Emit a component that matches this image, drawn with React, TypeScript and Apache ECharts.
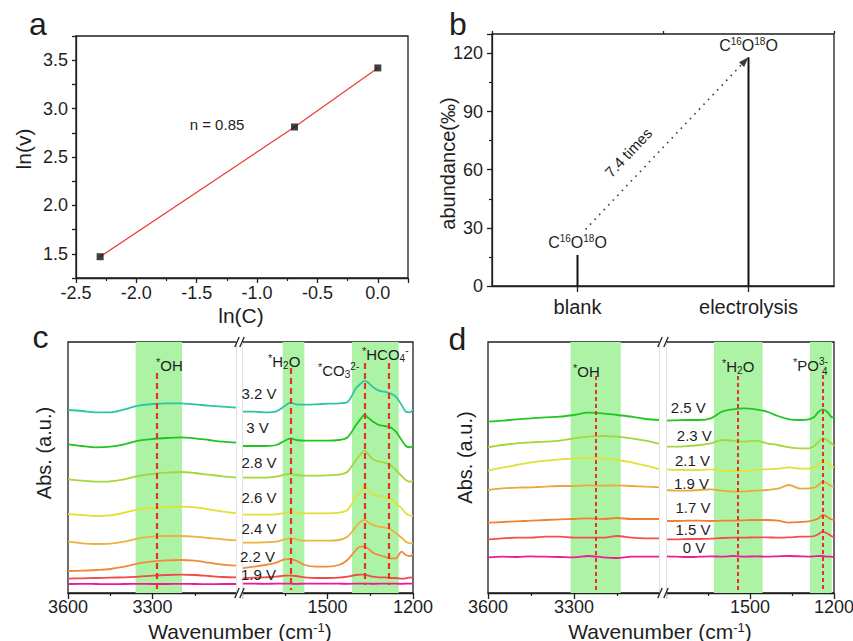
import React, { useEffect, useRef } from "react";
import * as echarts from "echarts";

const FONT = "'Liberation Sans', Arial, Helvetica, sans-serif";
const INK = "#1e1e1e";

/* ---------------- panel a ---------------- */
const lnC = [-2.3, -0.69, 0];
const lnV = [1.47, 2.81, 3.42];
const aNote = "n = 0.85";

/* ---------------- panel b ---------------- */
const bCategories = ["blank", "electrolysis"];
const bAbundance = [16, 118];
const bArrowStart = 29.2;
const bArrowEnd = 116.1;
const bNote = "7.4 times";

/* ---------------- shared wavenumber ticks ---------------- */
const wnTicksLeft = [3600, 3300];
const wnTicksRight = [1500, 1200];

/* ---------------- panel c ---------------- */
const cLeftX = [3600, 3550, 3500, 3450, 3400, 3350, 3300, 3250, 3200, 3150, 3100, 3050, 3000];
const cRightX = [1800, 1760, 1720, 1680, 1650, 1630, 1610, 1580, 1540, 1500, 1460, 1430, 1400, 1385, 1370, 1355, 1340, 1320, 1300, 1280, 1260, 1240, 1225, 1210, 1200];
const cVoltages = ["3.2 V", "3 V", "2.8 V", "2.6 V", "2.4 V", "2.2 V", "1.9 V", ""];
const cColors = ["#2ec4a4", "#1fc41f", "#a6d63a", "#e2e034", "#ebb23e", "#f28a3a", "#f24a4a", "#f0189a"];

const c32L = [183, 182, 180.7, 180.7, 183.7, 187.3, 189, 189.7, 189.7, 188.7, 187.3, 186.3, 185.3];
const c32R = [181.3, 181.3, 180.7, 181.7, 187, 190.3, 188.7, 188.3, 188.7, 189.3, 189.7, 191, 204.7, 209, 212.3, 209.7, 205.7, 202.3, 201.3, 199.7, 196.3, 188, 181.3, 180.7, 183.7];
const c30L = [148.7, 147, 145.7, 146.3, 148.7, 152.3, 154, 155, 155.7, 154.7, 153, 151.3, 150.3];
const c30R = [147, 147, 147, 148, 152.3, 154.7, 153, 152.3, 152.3, 152.3, 153, 155.5, 168, 173.7, 178, 174.7, 171.3, 168, 167, 165.7, 161.3, 153, 147, 145.7, 147];
const c28L = [113.7, 112.3, 111.3, 111.7, 113.7, 117, 119, 120.3, 121, 120, 118.3, 116.7, 115.3];
const c28R = [115.3, 115.3, 115.3, 116.3, 118.3, 119, 118, 117.3, 117.3, 117.7, 118.3, 121.3, 133, 138, 142.3, 138, 133.7, 131.3, 130.3, 128, 123, 117, 113, 111.3, 112];
const c26L = [79, 78, 77, 77.7, 80.3, 83.7, 85, 85.7, 86.3, 85.7, 83.7, 81.3, 79.7];
const c26R = [78.7, 78.3, 78.3, 78.7, 80.3, 81.3, 80.3, 79.7, 79.7, 79.7, 80.3, 83, 96.3, 101.3, 107, 102.3, 99, 97, 96.3, 94.7, 89.7, 84.7, 79.7, 77.3, 77.3];
const c24L = [51.3, 49.7, 49, 49.3, 51.3, 54.7, 56.3, 57, 57, 56.3, 55, 53.7, 52.7];
const c24R = [50.3, 50.3, 50.7, 51.3, 53.7, 54.7, 53.7, 52.3, 52.3, 52.3, 53, 56.3, 66.3, 71.3, 73, 70.3, 68, 66.3, 65.7, 63.7, 59.7, 55.3, 51.3, 49.7, 49.7];
const c22L = [22, 22.3, 23, 24, 26.3, 29.7, 31.7, 32.7, 33, 32.3, 30.3, 28.3, 27.3];
const c22R = [24.7, 26.3, 28, 30.3, 33.7, 34, 32.3, 28, 26.3, 26.3, 28, 33, 43, 46.3, 46.3, 43.7, 40.3, 38, 36.3, 34.7, 34.7, 41.3, 38, 37, 38.7];
const c19L = [14.3, 14.7, 15, 15.3, 15.7, 16.3, 17.3, 18, 18.3, 18, 17, 16, 15.7];
const c19R = [14.7, 15.3, 15.7, 16.3, 17.3, 17.3, 17, 15.7, 15, 15, 15.3, 16.3, 18, 18.3, 18.3, 17.3, 16.3, 15.7, 15.7, 15, 15, 14.3, 14.7, 15.7, 15];
const c00L = [9, 9.2, 9, 8.8, 9, 9.1, 9, 9, 9.2, 9, 8.9, 9, 9];
const c00R = [9.3, 9.3, 9.2, 9.3, 9.4, 9.3, 9.2, 9.3, 9.3, 9.4, 9.3, 9.2, 9.3, 9.4, 9.3, 9.3, 9.2, 9.3, 9.3, 9.4, 9.3, 9.2, 9.3, 9.3, 9.3];

const cBandsLeft = [[3360, 3195]];
const cBandsRight = [[1657, 1581], [1414, 1250]];
const cPeaksLeft = [[3285, 220, 0]];
const cPeaksRight = [[1628, 225, 3], [1371, 230, 8], [1284, 230, 8]];

/* ---------------- panel d ---------------- */
const dLeftX = [3600, 3550, 3500, 3450, 3400, 3350, 3300, 3250, 3200, 3150, 3100, 3050, 3000];
const dRightX = [1800, 1760, 1720, 1680, 1640, 1600, 1560, 1520, 1480, 1440, 1400, 1360, 1320, 1290, 1270, 1255, 1240, 1225, 1210, 1200];
const dVoltages = ["2.5 V", "2.3 V", "2.1 V", "1.9 V", "1.7 V", "1.5 V", "0 V"];
const dColors = ["#22c622", "#a6d63a", "#e2e03c", "#e9a93e", "#f08032", "#f25050", "#ea1e96"];

const d25L = [171.3, 172.3, 173.7, 174.7, 175.7, 176.3, 178, 180.3, 179.7, 178, 176.3, 174, 173];
const d25R = [172.3, 172.7, 173, 173, 174.7, 181.3, 183.7, 184.7, 183.7, 181.3, 177, 173.7, 173, 173.7, 176.3, 181.3, 183.7, 181.3, 176.3, 175.3];
const d23L = [145.7, 148, 149.7, 150.7, 151.3, 152.3, 154.7, 156.3, 157, 156.3, 154.7, 152.3, 149];
const d23R = [146.3, 146.3, 147, 148, 149.7, 153, 152.3, 151.3, 152.3, 149.7, 148, 145.7, 144.7, 144.7, 147, 151.3, 154.7, 153, 149.7, 147];
const d21L = [122.3, 125.3, 128, 130.7, 132.3, 133.7, 134.7, 135, 134.7, 133, 130.7, 127.3, 123.7];
const d21R = [123.7, 123, 123, 123, 123.7, 122.3, 122, 121.7, 123, 123.7, 124.3, 125.7, 124.3, 124.3, 125.7, 129, 132.3, 130.3, 127, 125.7];
const d19L = [103, 104.7, 105.3, 105.7, 106.3, 107, 107, 107.7, 107.3, 107.7, 107, 106.3, 105.7];
const d19R = [103, 102.3, 102.3, 103, 103.7, 102.3, 101.3, 101.7, 102.3, 103, 104.3, 108, 104.3, 104.7, 105.3, 108, 111.3, 109.7, 107, 106.3];
const d17L = [70.3, 71, 71.7, 72.3, 73, 73.7, 74, 74.7, 74, 75, 74, 74, 74];
const d17R = [72, 72, 72.3, 72.3, 72, 72.3, 72.3, 72.7, 73, 73, 72.3, 70.3, 71, 71.7, 73, 74.7, 78, 76.3, 73.7, 73];
const d15L = [53.7, 54.7, 55.3, 55.3, 56.3, 56.3, 55.3, 55.3, 55.3, 57, 55.3, 54.7, 54.7];
const d15R = [53.7, 53.7, 54, 54, 54.3, 55, 55.3, 55.3, 55.7, 55.7, 55.3, 55.7, 56.3, 56.3, 57, 59, 61.3, 59.7, 57, 55.7];
const d00L = [35.7, 36.3, 36, 36.7, 36.3, 36, 35.7, 37, 35.7, 35, 36.3, 36.3, 36.3];
const d00R = [36.7, 36.3, 36, 36.3, 36.7, 36.3, 37, 36.3, 36.7, 36.3, 36.7, 37, 36.7, 36.3, 36.7, 37, 37, 36.3, 36.3, 35.7];

const dBandsLeft = [[3312, 3137]];
const dBandsRight = [[1629, 1455], [1286, 1208]];
const dPeaksLeft = [[3224, 217, 0]];
const dPeaksRight = [[1542, 217, 3], [1240, 218, 3]];

/* ---------------- helpers ---------------- */
const lineStyleInk = { color: INK, width: 1.3 };

function isMultiple(v: number, step: number) {
  const r = v / step;
  return Math.abs(r - Math.round(r)) < 1e-6;
}

function specXAxis(gridIndex: number, min: number, max: number, labels: number[]) {
  return {
    type: "value", gridIndex, min, max, interval: 300, inverse: true,
    axisLine: { show: true, onZero: false, lineStyle: lineStyleInk },
    axisTick: { show: true, length: 6, lineStyle: lineStyleInk },
    minorTick: { show: true, splitNumber: 2, length: 3, lineStyle: { color: INK, width: 1.2 } },
    axisLabel: { fontSize: 18, color: INK, fontFamily: FONT, margin: 5, formatter: (v: number) => (labels.includes(v) ? String(v) : "") },
    splitLine: { show: false }, minorSplitLine: { show: false },
  };
}
function specYAxis(gridIndex: number) {
  return { type: "value", gridIndex, min: 0, max: 251, axisLine: { show: false, onZero: false }, axisTick: { show: false }, axisLabel: { show: false }, splitLine: { show: false } };
}
function curve(name: string, xs: number[], ys: number[], color: string, axis: number) {
  return {
    type: "line", name, xAxisIndex: axis, yAxisIndex: axis - 1,
    data: xs.map((x, i) => [x, ys[i]]), symbol: "none", showSymbol: false, smooth: 0.3,
    lineStyle: { color, width: 1.8 }, itemStyle: { color }, silent: true, z: 2,
  };
}
function bandSeries(bands: number[][], axis: number) {
  return {
    type: "line", xAxisIndex: axis, yAxisIndex: axis - 1, data: [], z: 1, silent: true,
    markArea: { silent: true, itemStyle: { color: "#adf3a6" }, data: bands.map(([a, b]) => [{ xAxis: a }, { xAxis: b }]) },
  };
}
function peakSeries(peaks: number[][], axis: number, dash: number[], width: number) {
  return {
    type: "line", xAxisIndex: axis, yAxisIndex: axis - 1, data: [], z: 4, silent: true,
    markLine: {
      silent: true, symbol: ["none", "none"], label: { show: false },
      lineStyle: { color: "#e5322b", type: dash, width },
      data: peaks.map(([x, t, b]) => [{ coord: [x, t] }, { coord: [x, b] }]),
    },
  };
}

function txt(text: string, x: number, y: number, size: number, extra: any = {}, rotation = 0) {
  return {
    type: "text", x, y, rotation, z: 60, silent: true,
    style: { text, fontSize: size, fontFamily: FONT, fill: INK, align: "center", verticalAlign: "middle", ...extra },
  };
}
function rich(base: number) {
  const s = Math.round(base * 0.66);
  return {
    n: { fontSize: base, lineHeight: base + 3, fontFamily: FONT, fill: INK },
    a: { fontSize: Math.round(base * 0.75), lineHeight: Math.round(base * 0.75), verticalAlign: "top", fontFamily: FONT, fill: INK },
    s: { fontSize: s, lineHeight: s, verticalAlign: "top", fontFamily: FONT, fill: INK },
    b: { fontSize: s, lineHeight: s - 2, verticalAlign: "bottom", fontFamily: FONT, fill: INK },
  };
}
function richTxt(text: string, x: number, y: number, base: number, align = "left") {
  return {
    type: "text", x, y, z: 60, silent: true,
    style: { text, fontSize: base, fontFamily: FONT, fill: INK, align, verticalAlign: "middle", rich: rich(base) },
  };
}
function titleTxt(x: number, y: number) {
  return {
    type: "text", x, y, z: 60, silent: true,
    style: {
      text: "{n|Wavenumber (cm}{s|-1}{n|)}", fontSize: 21, fontFamily: FONT, fill: INK, align: "center", verticalAlign: "middle",
      rich: { n: { fontSize: 21, lineHeight: 21, fontFamily: FONT, fill: INK }, s: { fontSize: 13, lineHeight: 11, verticalAlign: "top", fontFamily: FONT, fill: INK } },
    },
  };
}
function breakMarks(x1: number, x2: number, top: number, bottom: number) {
  const out: any[] = [{ type: "rect", z: 50, silent: true, shape: { x: x1 - 0.8, y: top - 6, width: x2 - x1 + 1.6, height: bottom - top + 14 }, style: { fill: "#fff" } }];
  for (const yc of [top, bottom]) {
    for (const xc of [x1, x2]) {
      out.push({ type: "line", z: 51, silent: true, shape: { x1: xc - 2.2, y1: yc + 5, x2: xc + 2.2, y2: yc - 5 }, style: { stroke: INK, lineWidth: 1.3 } });
    }
  }
  return out;
}

function buildOption() {
  const grids = [
    { left: 76, top: 36, width: 332, height: 242 },
    { left: 492, top: 34, width: 342, height: 252 },
    { left: 68, top: 342, width: 169, height: 251 },
    { left: 242, top: 342, width: 171, height: 251 },
    { left: 488, top: 342, width: 172, height: 251 },
    { left: 666, top: 342, width: 168, height: 251 },
  ].map((g) => ({ ...g, show: true, borderColor: INK, borderWidth: 1.3, backgroundColor: "transparent", containLabel: false, outerBoundsMode: "none" }));

  const xAxis: any[] = [
    {
      type: "value", gridIndex: 0, min: -2.5, max: 0.25, interval: 0.5,
      axisLine: { show: true, onZero: false, lineStyle: lineStyleInk },
      axisTick: { show: true, length: 5, lineStyle: lineStyleInk },
      minorTick: { show: true, splitNumber: 2, length: 3, lineStyle: { color: INK, width: 1.2 } },
      axisLabel: { fontSize: 18, color: INK, fontFamily: FONT, margin: 6, formatter: (v: number) => (isMultiple(v, 0.5) ? v.toFixed(1) : "") },
      splitLine: { show: false },
    },
    {
      type: "category", gridIndex: 1, data: bCategories,
      axisLine: { show: true, onZero: false, lineStyle: lineStyleInk },
      axisTick: { show: true, alignWithLabel: true, length: 6, lineStyle: lineStyleInk },
      axisLabel: { fontSize: 20, color: INK, fontFamily: FONT, margin: 11 },
      splitLine: { show: false },
    },
    {
      type: "category", gridIndex: 1, data: bCategories,
      axisLine: { show: false, onZero: false }, axisLabel: { show: false },
      axisTick: { show: true, length: 3, lineStyle: lineStyleInk }, splitLine: { show: false },
    },
    specXAxis(2, 3000, 3600, wnTicksLeft),
    specXAxis(3, 1200, 1800, wnTicksRight),
    specXAxis(4, 3000, 3600, wnTicksLeft),
    specXAxis(5, 1200, 1800, wnTicksRight),
  ];
  const yAxis: any[] = [
    {
      type: "value", gridIndex: 0, min: 1.25, max: 3.75, interval: 0.25,
      axisLine: { show: true, onZero: false, lineStyle: lineStyleInk },
      axisTick: { show: true, length: 4, lineStyle: lineStyleInk },
      axisLabel: { fontSize: 18, color: INK, fontFamily: FONT, margin: 8, formatter: (v: number) => (isMultiple(v, 0.5) ? v.toFixed(1) : "") },
      splitLine: { show: false },
    },
    {
      type: "value", gridIndex: 1, min: 0, max: 130, interval: 30,
      axisLine: { show: true, onZero: false, lineStyle: lineStyleInk },
      axisTick: { show: true, length: 5, lineStyle: lineStyleInk },
      minorTick: { show: true, splitNumber: 2, length: 3, lineStyle: { color: INK, width: 1.2 } },
      axisLabel: { fontSize: 18, color: INK, fontFamily: FONT, margin: 9, formatter: (v: number) => (v <= 120 && isMultiple(v, 30) ? String(v) : "") },
      splitLine: { show: false },
    },
    specYAxis(2), specYAxis(3), specYAxis(4), specYAxis(5),
  ];

  const aPoints = lnC.map((x, i) => [x, lnV[i]]);
  const cPairs = [[c32L, c32R], [c30L, c30R], [c28L, c28R], [c26L, c26R], [c24L, c24R], [c22L, c22R], [c19L, c19R], [c00L, c00R]];
  const dPairs = [[d25L, d25R], [d23L, d23R], [d21L, d21R], [d19L, d19R], [d17L, d17R], [d15L, d15R], [d00L, d00R]];

  const series: any[] = [
    { type: "line", xAxisIndex: 0, yAxisIndex: 0, data: aPoints, symbol: "none", lineStyle: { color: "#e8403a", width: 1.3 }, z: 2, silent: true },
    { type: "scatter", xAxisIndex: 0, yAxisIndex: 0, data: aPoints, symbol: "rect", symbolSize: 7, itemStyle: { color: "#111" }, z: 3, silent: true },
    {
      type: "bar", id: "bBars", xAxisIndex: 1, yAxisIndex: 1, data: bAbundance, barWidth: 2, itemStyle: { color: "#111" }, silent: true,
      label: {
        show: true, position: "top", distance: 3,
        formatter: "{n|C}{s|16}{n|O}{s|18}{n|O}",
        rich: {
          n: { fontSize: 16, color: INK, lineHeight: 18, fontFamily: FONT },
          s: { fontSize: 10, color: INK, lineHeight: 10, verticalAlign: "top", fontFamily: FONT },
        },
      },
    },
    {
      type: "line", id: "bArrow", xAxisIndex: 1, yAxisIndex: 1, data: [], silent: true, z: 3,
      markLine: {
        silent: true, symbol: ["none", "triangle"], symbolSize: [7, 10], label: { show: false },
        lineStyle: { color: "#3a3a3a", width: 1.6, type: [1.6, 5] }, data: [],
      },
    },
    bandSeries(cBandsLeft, 3), bandSeries(cBandsRight, 4),
    bandSeries(dBandsLeft, 5), bandSeries(dBandsRight, 6),
  ];
  cPairs.forEach(([l, r], i) => {
    series.push(curve(cVoltages[i] || "baseline", cLeftX, l, cColors[i], 3));
    series.push(curve(cVoltages[i] || "baseline", cRightX, r, cColors[i], 4));
  });
  dPairs.forEach(([l, r], i) => {
    series.push(curve(dVoltages[i], dLeftX, l, dColors[i], 5));
    series.push(curve(dVoltages[i], dRightX, r, dColors[i], 6));
  });
  series.push(peakSeries(cPeaksLeft, 3, [6, 4], 2.2), peakSeries(cPeaksRight, 4, [6, 4], 2.2));
  series.push(peakSeries(dPeaksLeft, 5, [4, 3], 2), peakSeries(dPeaksRight, 6, [4, 3], 2));

  const cLabelPos = [[259, 393], [257.5, 427.5], [259, 462], [259, 497.5], [259, 528.5], [257.5, 556], [258.5, 574]];
  const dLabelPos = [[688.3, 407.5], [694.3, 435], [692.5, 460], [691.5, 483], [693, 507], [693, 529.7], [694, 547.5]];

  const graphic: any[] = [
    txt("a", 38, 24, 32), txt("b", 458, 24, 32), txt("c", 40.5, 337, 32), txt("d", 457.5, 339, 32),
    txt("ln(v)", 23, 149, 21, {}, Math.PI / 2),
    txt("ln(C)", 241, 315, 21),
    txt(aNote, 217, 124.5, 15),
    txt("abundance(‰)", 448, 163.5, 20, {}, Math.PI / 2),
    txt(bNote, 628.3, 152.5, 15, {}, (46.6 * Math.PI) / 180),
    txt("Abs. (a.u.)", 44, 453, 20, {}, Math.PI / 2),
    txt("Abs. (a.u.)", 464.5, 457.5, 20, {}, Math.PI / 2),
    titleTxt(240, 631),
    titleTxt(660, 631),
    ...breakMarks(237, 242, 342, 593),
    ...breakMarks(660, 666, 342, 593),
    richTxt("{a|*}{n|OH}", 156, 365, 15),
    richTxt("{a|*}{n|H}{b|2}{n|O}", 268, 361, 15),
    richTxt("{a|*}{n|CO}{b|3}{s|2-}", 318, 370.5, 15),
    richTxt("{a|*}{n|HCO}{b|4}{s|-}", 362, 354, 15),
    richTxt("{a|*}{n|OH}", 573, 371.7, 15),
    richTxt("{a|*}{n|H}{b|2}{n|O}", 722, 366.7, 15),
    richTxt("{a|*}{n|PO}{s|3-}", 793, 365.3, 15),
    txt("4", 822, 371, 10, { align: "left" }),
  ];
  cVoltages.forEach((v, i) => {
    if (v && cLabelPos[i]) graphic.push(txt(v, cLabelPos[i][0], cLabelPos[i][1], 15));
  });
  dVoltages.forEach((v, i) => {
    graphic.push(txt(v, dLabelPos[i][0], dLabelPos[i][1], 15));
  });

  return {
    animation: false,
    backgroundColor: "#fff",
    textStyle: { fontFamily: FONT },
    grid: grids,
    xAxis,
    yAxis,
    series,
    graphic,
  };
}

export default function App() {
  const ref = useRef<HTMLDivElement>(null);
  useEffect(() => {
    const el = ref.current;
    if (!el) return;
    const chart = echarts.init(el, null, { renderer: "svg" });
    chart.setOption(buildOption() as any);
    const p1 = chart.convertToPixel({ xAxisIndex: 1, yAxisIndex: 1 } as any, [bCategories[0], bArrowStart] as any) as any;
    const p2 = chart.convertToPixel({ xAxisIndex: 1, yAxisIndex: 1 } as any, [bCategories[1], bArrowEnd] as any) as any;
    if (p1 && p2) {
      chart.setOption({
        series: [{ id: "bArrow", markLine: { data: [[{ x: p1[0] + 8, y: p1[1] }, { x: p2[0] - 3.5, y: p2[1] }]] } }],
      } as any);
    }
    return () => chart.dispose();
  }, []);
  return <div ref={ref} style={{ position: "absolute", left: 0, top: 0, width: 853, height: 641, background: "#fff" }} />;
}
